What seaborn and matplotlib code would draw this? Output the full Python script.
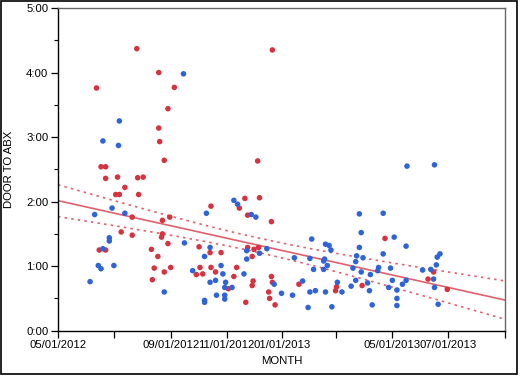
import numpy as np
import pandas as pd
import matplotlib
matplotlib.use("Agg")
import matplotlib.pyplot as plt
import matplotlib.dates as mdates
from matplotlib.patches import Rectangle
import seaborn as sns

# ---- data (days since 2012-05-01, door-to-antibiotic time in hours) ----
start_date = "2012-05-01"

red_day = [86, 110, 42, 127, 120, 110, 111, 116, 47, 52, 52, 65, 87, 93, 73, 218, 234,
           63, 67, 88, 81, 122, 114, 167, 198, 204, 220, 207, 69, 81, 114, 113, 120, 102,
           109, 45, 52, 105, 123, 103, 116, 154, 166, 178, 155, 151, 158, 167, 172, 195,
           192, 186, 205, 207, 212, 214, 219, 213, 212, 233, 234, 230, 231, 237, 233, 263,
           304, 303, 332, 357, 404, 410, 425]
red_hours = [4.37, 4.00, 3.76, 3.77, 3.44, 3.14, 2.93, 2.64, 2.54, 2.54, 2.36, 2.38, 2.37,
             2.38, 2.22, 2.63, 4.35, 2.11, 2.11, 2.11, 1.76, 1.76, 1.71, 1.93, 1.90, 2.05,
             2.06, 1.79, 1.53, 1.48, 1.50, 1.45, 1.35, 1.26, 1.15, 1.25, 1.25, 0.97, 0.98,
             0.79, 0.91, 1.30, 1.21, 1.21, 0.98, 0.87, 0.88, 0.98, 0.91, 0.98, 0.84, 0.65,
             0.44, 1.29, 1.15, 1.26, 1.29, 0.77, 0.70, 0.84, 0.75, 0.60, 0.50, 0.40, 1.69,
             0.72, 0.68, 0.62, 0.70, 1.43, 0.80, 0.91, 0.64]

blue_day = [137, 67, 49, 66, 381, 411, 59, 73, 40, 162, 192, 196, 211, 216, 56, 56, 138,
            49, 44, 47, 61, 35, 116, 160, 166, 147, 178, 166, 172, 180, 203, 160, 160, 173,
            182, 182, 182, 190, 206, 206, 220, 183, 228, 236, 244, 256, 258, 267, 273, 275,
            281, 275, 277, 279, 291, 290, 292, 296, 294, 298, 292, 299, 305, 310, 320, 322,
            325, 325, 326, 329, 331, 329, 331, 333, 338, 341, 340, 343, 349, 350, 355, 355,
            361, 363, 365, 367, 370, 370, 370, 376, 380, 380, 398, 407, 410, 411, 413, 414,
            417, 415, 290]
blue_hours = [3.98, 3.25, 2.94, 2.87, 2.55, 2.57, 1.90, 1.82, 1.80, 1.82, 2.02, 1.96, 1.80,
              1.76, 1.44, 1.39, 1.36, 1.27, 1.01, 0.96, 1.01, 0.76, 0.60, 1.15, 1.29, 0.93,
              1.01, 0.75, 0.78, 0.88, 0.88, 0.47, 0.44, 0.55, 0.67, 0.55, 0.49, 0.67, 1.24,
              1.11, 1.20, 0.75, 1.27, 0.72, 0.58, 0.55, 1.13, 0.77, 0.36, 0.60, 0.62, 1.12,
              1.42, 0.95, 1.11, 0.95, 1.34, 1.32, 1.01, 1.25, 0.60, 0.37, 0.75, 0.60, 0.69,
              0.97, 0.78, 1.07, 1.16, 1.81, 1.52, 1.29, 0.91, 1.13, 0.74, 0.87, 0.62, 0.40,
              0.93, 0.98, 1.19, 1.82, 0.67, 0.97, 0.78, 1.45, 0.63, 0.50, 0.39, 0.72, 0.78,
              1.31, 0.94, 0.95, 0.80, 0.67, 1.02, 1.14, 1.19, 0.41, 1.08]

xtick_dates = ["2012-05-01", "2012-07-01", "2012-09-01", "2012-11-01", "2013-01-01",
               "2013-03-01", "2013-05-01", "2013-07-01", "2013-09-01"]
xtick_labels = ["05/01/2012", "", "09/01/2012", "11/01/2012", "01/01/2013", "",
                "05/01/2013", "07/01/2013", ""]
ytick_vals = [0, 1, 2, 3, 4, 5]
ytick_labels = ["0:00", "1:00", "2:00", "3:00", "4:00", "5:00"]

RED = "#d6323f"
BLUE = "#2e63d9"
LINE = "#e0606c"

sns.set_theme(style="white")
plt.rcParams["font.family"] = ["Liberation Sans", "DejaVu Sans"]

df = pd.DataFrame({
    "day": red_day + blue_day,
    "hours": red_hours + blue_hours,
    "group": ["red"] * len(red_day) + ["blue"] * len(blue_day),
})
df["date"] = pd.Timestamp(start_date) + pd.to_timedelta(df["day"], unit="D")

W, H = 520, 377
fig = plt.figure(figsize=(W / 100, H / 100), dpi=100)
ax = fig.add_axes([58 / W, 1 - 330.7 / H, (505 - 58) / W, (330.7 - 8) / H])

x_lo = pd.Timestamp(xtick_dates[0])
x_hi = pd.Timestamp(xtick_dates[-1])

# regression line with 95% confidence band for the mean
xnum = mdates.date2num(df["date"])
yv = df["hours"].to_numpy()
n = len(yv)
b1, b0 = np.polyfit(xnum, yv, 1)
resid = yv - (b0 + b1 * xnum)
s = np.sqrt(np.sum(resid ** 2) / (n - 2))
xm = xnum.mean()
sxx = np.sum((xnum - xm) ** 2)
xs = np.linspace(mdates.date2num(x_lo), mdates.date2num(x_hi), 200)
yhat = b0 + b1 * xs
se = s * np.sqrt(1.0 / n + (xs - xm) ** 2 / sxx)
tcrit = 1.974
line_df = pd.DataFrame({"date": mdates.num2date(xs), "fit": yhat,
                        "lo": yhat - tcrit * se, "hi": yhat + tcrit * se})
line_df["date"] = pd.to_datetime(line_df["date"]).dt.tz_localize(None)

sns.lineplot(data=line_df, x="date", y="fit", color=LINE, lw=1.2, ax=ax, zorder=2)
sns.lineplot(data=line_df, x="date", y="lo", color=LINE, lw=1.2, ax=ax, zorder=2,
             linestyle=(0, (1.5, 2.5)))
sns.lineplot(data=line_df, x="date", y="hi", color=LINE, lw=1.2, ax=ax, zorder=2,
             linestyle=(0, (1.5, 2.5)))

sns.scatterplot(data=df, x="date", y="hours", hue="group",
                palette={"red": RED, "blue": BLUE}, s=16, linewidth=0,
                legend=False, ax=ax, zorder=3)

ax.set_xlim(x_lo, x_hi)
ax.set_ylim(0, 5)
ax.set_xticks(pd.to_datetime(xtick_dates))
ax.set_xticklabels(xtick_labels)
ax.set_yticks(ytick_vals)
ax.set_yticklabels(ytick_labels)
ax.set_yticks(np.arange(0.5, 5, 1.0), minor=True)

ax.tick_params(axis="both", which="major", direction="out", length=5, width=0.9,
               color="black", labelsize=8.2, pad=2, labelcolor="black")
ax.tick_params(axis="y", which="minor", direction="out", length=3, width=0.8, color="black")
ax.tick_params(axis="x", which="major", bottom=True)
ax.tick_params(axis="y", which="both", left=True)

ax.set_xlabel("MONTH", fontsize=8.2, labelpad=4, color="black")
ax.set_ylabel("DOOR TO ABX", fontsize=8.2, labelpad=9, color="black")

for side in ["left", "bottom"]:
    ax.spines[side].set_color("black")
    ax.spines[side].set_linewidth(1.0)
for side in ["top", "right"]:
    ax.spines[side].set_color("#666666")
    ax.spines[side].set_linewidth(1.0)
    ax.spines[side].set_visible(True)

fig.patches.append(Rectangle((1 / W, 1 - 374 / H), 516 / W, 373 / H,
                             transform=fig.transFigure, fill=False,
                             edgecolor="black", linewidth=1.2))

fig.savefig("out.png", dpi=100)
